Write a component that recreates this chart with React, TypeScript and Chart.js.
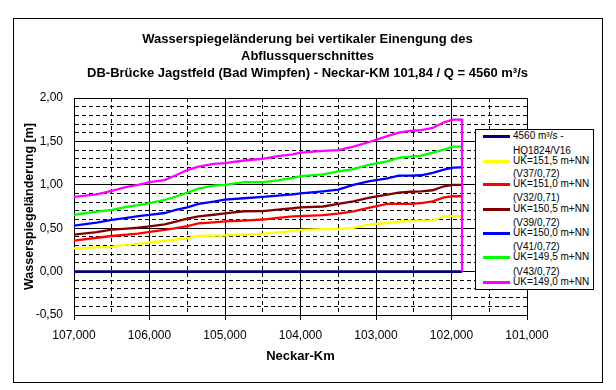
import React, { useEffect, useRef } from "react";
import { Chart, registerables } from "chart.js";

Chart.register(...registerables);

// ---- data ----
const titleLines = [
  "Wasserspiegeländerung bei vertikaler Einengung des",
  "Abflussquerschnittes",
  "DB-Brücke Jagstfeld (Bad Wimpfen) - Neckar-KM 101,84 / Q = 4560 m³/s",
];
const xTitle = "Neckar-Km";
const yTitle = "Wasserspiegeländerung [m]";

const km = [
  107.0, 106.7, 106.5, 106.3, 106.15, 106.0, 105.8, 105.65, 105.5, 105.35,
  105.15, 105.0, 104.75, 104.5, 104.3, 104.1, 104.0, 103.7, 103.5, 103.3,
  103.1, 102.85, 102.7, 102.55, 102.4, 102.25, 102.1, 101.98, 101.86,
];

const navyVals = [
  0, 0, 0, 0, 0, 0, 0, 0, 0, 0, 0, 0, 0, 0, 0, 0, 0, 0, 0, 0, 0, 0, 0, 0, 0,
  0, 0, 0, 0,
];
const yellowVals = [
  0.268, 0.278, 0.284, 0.31, 0.32, 0.338, 0.355, 0.37, 0.383, 0.41, 0.415,
  0.417, 0.426, 0.434, 0.453, 0.47, 0.48, 0.49, 0.49, 0.503, 0.54, 0.56, 0.575,
  0.585, 0.587, 0.59, 0.637, 0.64, 0.64,
];
const redVals = [
  0.357, 0.39, 0.41, 0.425, 0.437, 0.457, 0.48, 0.5, 0.525, 0.555, 0.567,
  0.578, 0.587, 0.6, 0.618, 0.636, 0.64, 0.65, 0.668, 0.695, 0.733, 0.78, 0.78,
  0.78, 0.79, 0.81, 0.856, 0.868, 0.868,
];
const brownVals = [
  0.426, 0.455, 0.484, 0.495, 0.505, 0.52, 0.545, 0.575, 0.61, 0.637, 0.655,
  0.67, 0.695, 0.697, 0.714, 0.73, 0.74, 0.75, 0.78, 0.81, 0.85, 0.887, 0.91,
  0.92, 0.925, 0.937, 0.983, 1.0, 1.0,
];
const blueVals = [
  0.53, 0.565, 0.595, 0.62, 0.64, 0.653, 0.675, 0.71, 0.74, 0.78, 0.805, 0.83,
  0.845, 0.86, 0.875, 0.89, 0.9, 0.925, 0.945, 1.0, 1.04, 1.075, 1.105, 1.106,
  1.11, 1.137, 1.175, 1.198, 1.2,
];
const greenVals = [
  0.655, 0.69, 0.71, 0.745, 0.765, 0.79, 0.825, 0.865, 0.91, 0.955, 0.99, 1.0,
  1.03, 1.03, 1.05, 1.08, 1.1, 1.12, 1.155, 1.18, 1.23, 1.27, 1.31, 1.325,
  1.336, 1.37, 1.405, 1.44, 1.44,
];
const magentaVals = [
  0.86, 0.89, 0.93, 0.975, 1.0, 1.03, 1.055, 1.11, 1.17, 1.21, 1.24, 1.25,
  1.28, 1.3, 1.33, 1.35, 1.37, 1.39, 1.4, 1.44, 1.49, 1.56, 1.6, 1.62, 1.63,
  1.655, 1.72, 1.75, 1.75,
];
// magenta series drops to zero at the bridge
const magentaDropKm = [101.86];
const magentaDropVals = [0];

const seriesLabels = [
  ["4560 m³/s -", "HQ1824/V16"],
  ["UK=151,5 m+NN", "(V37/0,72)"],
  ["UK=151,0 m+NN", "(V32/0,71)"],
  ["UK=150,5 m+NN", "(V39/0,72)"],
  ["UK=150,0 m+NN", "(V41/0,72)"],
  ["UK=149,5 m+NN", "(V43/0,72)"],
  ["UK=149,0 m+NN"],
];
const seriesColors = [
  "#000080",
  "#FFFF00",
  "#FF0000",
  "#800000",
  "#0000FF",
  "#00FF00",
  "#FF00FF",
];

const FONT = "'Liberation Sans', Arial, Helvetica, sans-serif";

function pts(xs: number[], ys: number[]) {
  return xs.map((x, i) => ({ x, y: ys[i] }));
}

const isHalf = (v: number) => Math.abs(v * 2 - Math.round(v * 2)) < 1e-6;
const isInt = (v: number) => Math.abs(v - Math.round(v)) < 1e-6;

export default function App() {
  const canvasRef = useRef<HTMLCanvasElement | null>(null);

  useEffect(() => {
    if (!canvasRef.current) return;
    const valueSets = [
      navyVals,
      yellowVals,
      redVals,
      brownVals,
      blueVals,
      greenVals,
      magentaVals,
    ];
    const datasets = valueSets.map((vals, i) => {
      let data = pts(km, vals);
      if (i === 6) data = data.concat(pts(magentaDropKm, magentaDropVals));
      return {
        label: seriesLabels[i].join(" "),
        data,
        borderColor: seriesColors[i],
        backgroundColor: seriesColors[i],
        borderWidth: i === 0 ? 2.7 : 2.3,
        pointRadius: 0,
        tension: 0,
        fill: false,
        order: 7 - i,
      };
    });

    const chart = new Chart(canvasRef.current, {
      type: "line",
      data: { datasets },
      options: {
        animation: false,
        responsive: false,
        maintainAspectRatio: false,
        parsing: false as any,
        layout: { padding: { top: 18, left: 13, right: 14, bottom: 8 } },
        plugins: {
          legend: { display: false },
          tooltip: { enabled: false },
          title: {
            display: true,
            text: titleLines,
            color: "#000",
            font: { family: FONT, size: 13, weight: "bold", lineHeight: 17 / 13 },
            padding: { top: 12.5, bottom: 16.5 },
          },
        },
        scales: {
          x: {
            type: "linear",
            min: 101,
            max: 107,
            reverse: true,
            afterFit: (s: any) => {
              s.height = 67;
            },
            ticks: {
              stepSize: 0.5,
              autoSkip: false,
              maxRotation: 0,
              padding: 8,
              color: "#000",
              font: { family: FONT, size: 12 },
              callback: (v: any) =>
                isInt(Number(v)) ? Number(v).toFixed(3).replace(".", ",") : "",
            },
            grid: {
              color: "#000",
              lineWidth: 1,
              drawTicks: true,
              tickLength: 5,
              tickColor: (c: any) =>
                c.tick && isInt(c.tick.value) ? "#000" : "rgba(0,0,0,0)",
            },
            border: {
              display: true,
              color: "#000",
              width: 1,
              dash: (c: any) =>
                c.tick && !isInt(c.tick.value) ? [4, 3] : [],
            },
            title: {
              display: true,
              text: xTitle,
              color: "#000",
              font: { family: FONT, size: 13, weight: "bold" },
              padding: { top: 4, bottom: 17.8 },
            },
          },
          y: {
            type: "linear",
            position: "left",
            min: -0.5,
            max: 2,
            afterFit: (s: any) => {
              s.width = 61;
            },
            ticks: {
              stepSize: 0.1,
              autoSkip: false,
              padding: 11,
              color: "#000",
              font: { family: FONT, size: 12 },
              callback: (v: any) =>
                isHalf(Number(v)) ? Number(v).toFixed(2).replace(".", ",") : "",
            },
            grid: {
              color: "#000",
              lineWidth: 1,
              drawTicks: false,
            },
            border: {
              display: true,
              color: "#000",
              width: 1,
              dash: (c: any) =>
                c.tick && !isHalf(c.tick.value) ? [4, 3] : [],
            },
            title: {
              display: true,
              text: yTitle,
              color: "#000",
              font: { family: FONT, size: 12.5, weight: "bold" },
              padding: { top: 9, bottom: 4 },
            },
          },
          yRight: {
            type: "linear",
            position: "right",
            min: -0.5,
            max: 2,
            afterFit: (s: any) => {
              s.width = 75;
            },
            ticks: { display: false },
            grid: { display: false, drawOnChartArea: false, drawTicks: false },
            border: { display: false },
          },
        },
      },
    });
    return () => chart.destroy();
  }, []);

  // legend layout (text rows)
  const legendTop = 129;
  const entryY = [136, 161, 184, 209, 233, 257, 282];
  const secondOffset = [15, 13, 14, 14, 14, 15, 13];

  return (
    <div
      style={{
        position: "absolute",
        left: 0,
        top: 0,
        width: 616,
        height: 390,
        background: "#fff",
        overflow: "hidden",
      }}
    >
      <canvas
        ref={canvasRef}
        width={616}
        height={390}
        style={{ position: "absolute", left: 0, top: 0, width: 616, height: 390 }}
      />
      <div
        style={{
          position: "absolute",
          left: 13,
          top: 18,
          width: 590,
          height: 365,
          boxSizing: "border-box",
          border: "1px solid #000",
          pointerEvents: "none",
        }}
      />
      <div
        style={{
          position: "absolute",
          left: 475,
          top: legendTop,
          width: 119,
          height: 161,
          boxSizing: "border-box",
          border: "1px solid #000",
          background: "#fff",
          overflow: "hidden",
          fontFamily: FONT,
          fontSize: 10,
          color: "#000",
        }}
      >
        {seriesLabels.map((lines, i) => (
          <React.Fragment key={i}>
            <div
              style={{
                position: "absolute",
                left: 7,
                top: entryY[i] - legendTop - 1.5 - 1,
                width: 27,
                height: 3,
                background: seriesColors[i],
              }}
            />
            {lines.map((t, j) => (
              <div
                key={j}
                style={{
                  position: "absolute",
                  left: 37,
                  top: entryY[i] + j * secondOffset[i] - legendTop - 1 - 6,
                  lineHeight: "12px",
                  height: 12,
                  whiteSpace: "nowrap",
                }}
              >
                {t}
              </div>
            ))}
          </React.Fragment>
        ))}
      </div>
    </div>
  );
}
